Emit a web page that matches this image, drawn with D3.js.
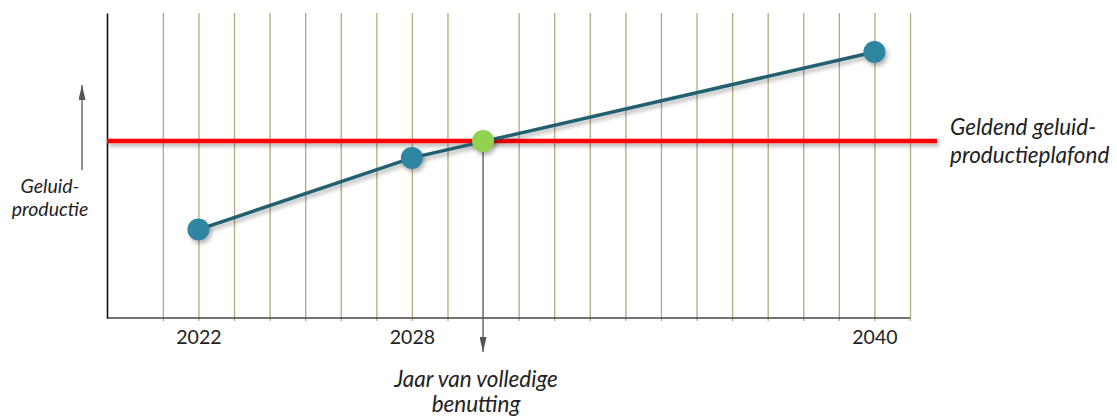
<!DOCTYPE html>
<html>
<head>
<meta charset="utf-8">
<script src="https://cdn.jsdelivr.net/npm/d3@7"></script>
<style>
  body { margin: 0; background: #fff; }
  text { font-family: Lato, "Open Sans", sans-serif; fill: #222; }
  .grid line { stroke: #b3aa7f; stroke-width: 1.3; }
  .grid .domain { display: none; }
</style>
</head>
<body>
<div id="chart"></div>
<script>
// grid slots (one per year column), tick labels and points
const gridSlots = [0, 1, 2, 3, 4, 5, 6, 7, 8, 9, 10, 11, 12, 13, 14, 15, 16, 17, 18, 19, 20, 21];
const tickSlots = [1, 7, 20];
const tickLabels = ["2022", "2028", "2040"];
const pointSlots = [1, 7, 20];
const pointValues = [29, 52.5, 87.2];
const ceilingValue = 58;
const crossSlot = 9;

let svgWidth = 1117;
let svgHeight = 417;

let svg = d3.select("#chart").append("svg")
  .attr("width", svgWidth)
  .attr("height", svgHeight);

let defs = svg.append("defs");
defs.append("filter").attr("id", "shadow")
  .attr("filterUnits", "userSpaceOnUse")
  .attr("x", 0).attr("y", 0).attr("width", svgWidth).attr("height", svgHeight)
  .append("feDropShadow")
  .attr("dx", 2).attr("dy", 3).attr("stdDeviation", 2)
  .attr("flood-color", "#000").attr("flood-opacity", 0.3);

let arrow = defs.append("marker").attr("id", "arrow")
  .attr("viewBox", "0 0 15 7").attr("refX", 15).attr("refY", 3.5)
  .attr("markerWidth", 15).attr("markerHeight", 7)
  .attr("markerUnits", "userSpaceOnUse")
  .attr("orient", "auto");
arrow.append("path").attr("d", "M0,0 L15,3.5 L0,7 Z").attr("fill", "#555");

let xScale = d3.scaleLinear().domain([-1.57, 21]).range([107, 910]);
let yScale = d3.scaleLinear().domain([0, 100]).range([318, 13]);

// vertical grid lines
svg.append("g").attr("class", "grid")
  .attr("transform", `translate(0, ${yScale(0) + 3})`)
  .call(d3.axisBottom(xScale).tickValues(gridSlots.filter(s => s !== crossSlot))
    .tickSize(yScale(0) + 3 - yScale(100)).tickFormat("").tickSizeOuter(0))
  .selectAll(".tick line").attr("y2", -(yScale(0) + 3 - yScale(100)));

// x axis line
svg.append("line")
  .attr("x1", xScale.range()[0]).attr("x2", xScale.range()[1])
  .attr("y1", yScale(0)).attr("y2", yScale(0))
  .attr("stroke", "#444").attr("stroke-width", 1.6);

// y axis
let yAx = svg.append("g").attr("transform", `translate(${xScale.range()[0]}, 0)`)
  .call(d3.axisLeft(yScale).tickValues([]).tickSizeOuter(0));
yAx.select(".domain").attr("stroke", "#111").attr("stroke-width", 1.6);

// tick labels
let xLabels = svg.append("g")
  .attr("transform", `translate(0, ${yScale(0)})`)
  .call(d3.axisBottom(xScale).tickValues(tickSlots)
    .tickFormat((d, i) => tickLabels[i]).tickSize(0).tickPadding(12));
xLabels.select(".domain").remove();
xLabels.selectAll("text").attr("font-size", 19.5).attr("font-family", "Lato, sans-serif").attr("fill", "#222");

// arrow down from crossing point
svg.append("line")
  .attr("x1", xScale(crossSlot)).attr("x2", xScale(crossSlot))
  .attr("y1", yScale(ceilingValue)).attr("y2", 352)
  .attr("stroke", "#555").attr("stroke-width", 1.3)
  .attr("marker-end", "url(#arrow)");

// ceiling line
svg.append("line")
  .attr("x1", xScale.range()[0]).attr("x2", xScale.range()[1] + 27)
  .attr("y1", yScale(ceilingValue)).attr("y2", yScale(ceilingValue))
  .attr("stroke", "#ff0000").attr("stroke-width", 4.5)
  .attr("filter", "url(#shadow)");

// production line
let lineData = pointSlots.map((s, i) => [s, pointValues[i]]);
svg.append("path")
  .datum(lineData)
  .attr("d", d3.line().x(d => xScale(d[0])).y(d => yScale(d[1])))
  .attr("fill", "none").attr("stroke", "#23616f").attr("stroke-width", 3.5)
  .attr("filter", "url(#shadow)");

svg.selectAll("circle.pt").data(lineData).enter().append("circle")
  .attr("class", "pt")
  .attr("cx", d => xScale(d[0])).attr("cy", d => yScale(d[1]))
  .attr("r", 11).attr("fill", "#2e86a0")
  .attr("filter", "url(#shadow)");

svg.append("circle")
  .attr("cx", xScale(crossSlot)).attr("cy", yScale(ceilingValue))
  .attr("r", 11).attr("fill", "#92d050")
  .attr("filter", "url(#shadow)");

// y label with up arrow
svg.append("line")
  .attr("x1", 82).attr("x2", 82).attr("y1", 170).attr("y2", 85)
  .attr("stroke", "#555").attr("stroke-width", 1.3)
  .attr("marker-end", "url(#arrow)");

let yLabel = svg.append("text").attr("text-anchor", "middle")
  .attr("font-style", "italic").attr("font-size", 19.5);
yLabel.append("tspan").attr("x", 50).attr("y", 193).text("Geluid-");
yLabel.append("tspan").attr("x", 50).attr("y", 216).text("productie");

let ceilLabel = svg.append("text").attr("font-style", "italic").attr("font-size", 22.5);
ceilLabel.append("tspan").attr("x", 950).attr("y", 135).text("Geldend geluid-");
ceilLabel.append("tspan").attr("x", 950).attr("y", 163).text("productieplafond");

let yearLabel = svg.append("text").attr("text-anchor", "middle")
  .attr("font-style", "italic").attr("font-size", 22.5);
yearLabel.append("tspan").attr("x", 476).attr("y", 387).text("Jaar van volledige");
yearLabel.append("tspan").attr("x", 476).attr("y", 412).text("benutting");
</script>
</body>
</html>
